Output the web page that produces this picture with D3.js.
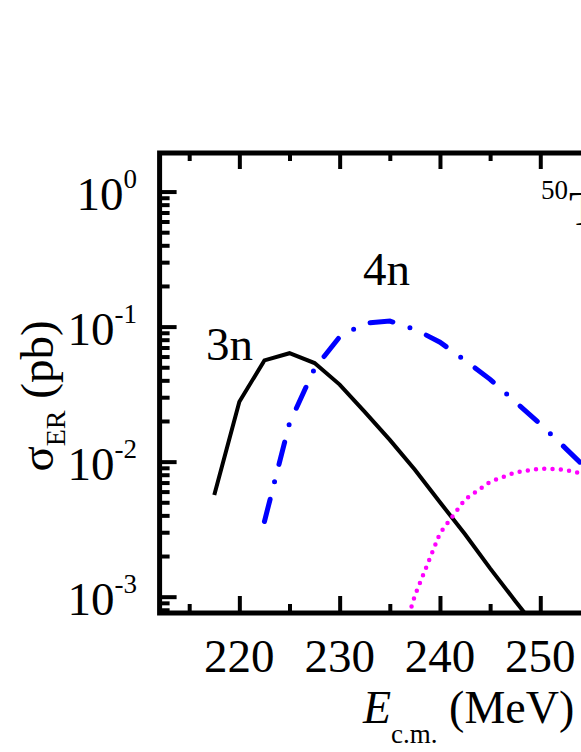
<!DOCTYPE html>
<html><head><meta charset="utf-8">
<script src="https://cdn.jsdelivr.net/npm/d3@7"></script>
<style>body{margin:0;background:#fff;overflow:hidden} svg{display:block}</style>
</head><body>
<svg id="c" width="581" height="752"></svg>
<script>
// ---- data ----
const energies3n = [217.5,220,222.5,225,227.5,230,232.5,235,237.5,240,242.5,245,247.5,250];
const sigma3n    = [0.00566,0.0278,0.0562,0.0635,0.0537,0.0372,0.0234,0.0145,0.0087,0.0050,0.0029,0.00162,0.00093,0.00054];
const energies4n = [222.5,225,227.5,230,232.5,235,237.5,240,242.5,245,247.5,250,252.5,255];
const sigma4n    = [0.0036,0.0193,0.049,0.084,0.106,0.110,0.0955,0.0767,0.0562,0.0407,0.0278,0.019,0.0126,0.0083];
const energies5n = [235,237.5,240,242.5,245,247.5,250,252.5,255];
const sigma5n    = [0.00025,0.00102,0.00295,0.00525,0.0071,0.0083,0.0089,0.0087,0.0079];
const xMajorTicks = [220,230,240,250,260];
const xTickLabels = [220,230,240,250];
const xMinorTicks = [215,225,235,245,255,265];
const yMajorTicks = [1e-3,1e-2,1e-1,1];
const yTickExp    = ["-3","-2","-1","0"];
const curveLabels = ["3n","4n"];

const FONT = "'Liberation Serif','Times New Roman',serif";
const svg = d3.select("#c");
const X0 = 159.6, X1 = 740.9, Y0 = 153, Y1 = 613;
const x = d3.scaleLinear().domain([212.05, 270]).range([X0, X1]);
const y = d3.scaleLog().domain([7.57e-4, 1.93]).range([Y1, Y0]);

// minor y ticks
const yMinorTicks = [];
for (let e = -4; e <= 0; e++) for (let k = 2; k <= 9; k++) {
  const v = k * Math.pow(10, e);
  if (v > y.domain()[0] && v < y.domain()[1]) yMinorTicks.push(v);
}

svg.append("defs").append("clipPath").attr("id","clip")
  .append("rect").attr("x",X0).attr("y",Y0).attr("width",X1-X0).attr("height",Y1-Y0);

// curves
const line = (xs, ys) => d3.line().x((d,i)=>x(xs[i])).y((d,i)=>y(ys[i]))(xs);
const curves = svg.append("g").attr("clip-path","url(#clip)").attr("fill","none");
curves.append("path").attr("d", line(energies3n, sigma3n))
  .attr("stroke","#000").attr("stroke-width",4).attr("stroke-linejoin","miter");
curves.append("path").attr("d", line(energies4n, sigma4n))
  .attr("stroke","#0000ff").attr("stroke-width",5).attr("stroke-linecap","round")
  .attr("stroke-dasharray","23 18 0 18");
curves.append("path").attr("d", line(energies5n, sigma5n))
  .attr("stroke","#ff00ff").attr("stroke-width",4.5).attr("stroke-linecap","round")
  .attr("stroke-dasharray","0 8.3");

// axes ticks
function styleAxis(g){ g.select(".domain").remove(); g.selectAll("line").attr("stroke","#000").attr("stroke-width",4); g.selectAll("text").remove(); }
svg.append("g").attr("transform",`translate(0,${Y1})`).call(d3.axisBottom(x).tickValues(xMajorTicks).tickSize(-17)).call(styleAxis);
svg.append("g").attr("transform",`translate(0,${Y1})`).call(d3.axisBottom(x).tickValues(xMinorTicks).tickSize(-9)).call(styleAxis);
svg.append("g").attr("transform",`translate(0,${Y0})`).call(d3.axisTop(x).tickValues(xMajorTicks).tickSize(-16)).call(styleAxis);
svg.append("g").attr("transform",`translate(0,${Y0})`).call(d3.axisTop(x).tickValues(xMinorTicks).tickSize(-8)).call(styleAxis);
svg.append("g").attr("transform",`translate(${X0},0)`).call(d3.axisLeft(y).tickValues(yMajorTicks).tickSize(-17)).call(styleAxis);
svg.append("g").attr("transform",`translate(${X0},0)`).call(d3.axisLeft(y).tickValues(yMinorTicks).tickSize(-10)).call(styleAxis);

// frame
svg.append("rect").attr("x",X0).attr("y",Y0).attr("width",X1-X0).attr("height",Y1-Y0)
  .attr("fill","none").attr("stroke","#000").attr("stroke-width",5);

// tick labels
svg.append("g").selectAll("text").data(xTickLabels).join("text")
  .attr("x",d=>x(d)).attr("y",672).attr("text-anchor","middle")
  .attr("font-family",FONT).attr("font-size",47).text(d=>d);
const yl = svg.append("g").selectAll("text").data(yMajorTicks).join("text")
  .attr("x",137).attr("y",d=>y(d)+18).attr("text-anchor","end")
  .attr("font-family",FONT).attr("font-size",47);
yl.append("tspan").text("10");
yl.append("tspan").attr("font-size",27).attr("dy",-22).text((d,i)=>yTickExp[i]);

// axis titles
const xt = svg.append("text").attr("x",363).attr("y",723).attr("font-family",FONT).attr("font-size",46);
xt.append("tspan").attr("font-style","italic").text("E");
xt.append("tspan").attr("font-size",27).attr("dy",20).text("c.m.");
xt.append("tspan").attr("dy",-20).text(" (MeV)");

const yt = svg.append("text").attr("transform","translate(53,396) rotate(-90)")
  .attr("text-anchor","middle").attr("font-family",FONT).attr("font-size",47);
yt.append("tspan").text("σ");
yt.append("tspan").attr("font-size",28).attr("dy",12).text("ER");
yt.append("tspan").attr("dy",-12).text(" (pb)");

// curve labels
svg.append("text").attr("x",206).attr("y",360).attr("font-family",FONT).attr("font-size",47).text(curveLabels[0]);
svg.append("text").attr("x",363).attr("y",285).attr("font-family",FONT).attr("font-size",47).text(curveLabels[1]);

// reaction label (cut off at the right edge, as in the reference)
const rl = svg.append("text").attr("x",541).attr("y",199).attr("font-family",FONT);
rl.append("tspan").attr("font-size",27).text("50");
rl.append("tspan").attr("font-size",48).attr("dy",26).attr("dx",1).text("Ti");
</script>
</body></html>
